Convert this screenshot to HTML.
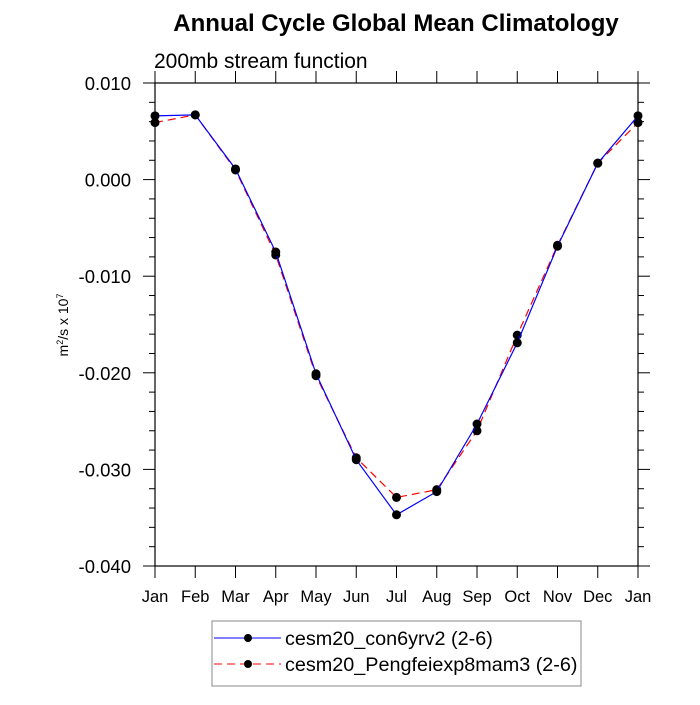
<!DOCTYPE html>
<html><head><meta charset="utf-8"><style>
body{margin:0;background:#fff;}
svg text{font-family:"Liberation Sans",sans-serif;}
</style></head><body>
<svg id="chart" width="700" height="700" xmlns="http://www.w3.org/2000/svg">
<text x="396" y="31" text-anchor="middle" font-size="24" font-weight="bold">Annual Cycle Global Mean Climatology</text>
<text x="154" y="68" font-size="21">200mb stream function</text>
<text transform="translate(68,325) rotate(-90)" text-anchor="middle" font-size="14">m<tspan baseline-shift="super" font-size="9">2</tspan>/s x 10<tspan baseline-shift="super" font-size="9">7</tspan></text>
<g id="axes"></g>
<g id="series"></g>
<g>
<rect x="212" y="621" width="369" height="65" fill="#fff" stroke="#888" stroke-width="1"/>
<line x1="214" y1="638" x2="281" y2="638" stroke="#00f" stroke-width="1"/>
<circle cx="248" cy="638" r="4" fill="#000"/>
<text x="285" y="645" font-size="19.8">cesm20_con6yrv2 (2-6)</text>
<line x1="214" y1="664" x2="281" y2="664" stroke="#f00" stroke-width="1" stroke-dasharray="8,5"/>
<circle cx="248" cy="664" r="4" fill="#000"/>
<text x="285" y="671" font-size="19.8">cesm20_Pengfeiexp8mam3 (2-6)</text>
</g>
</svg>
<script>
const months = ["Jan","Feb","Mar","Apr","May","Jun","Jul","Aug","Sep","Oct","Nov","Dec","Jan"];
const seriesBlue = [0.0066,0.0067,0.0011,-0.0075,-0.0201,-0.0290,-0.0347,-0.0323,-0.0253,-0.0169,-0.0069,0.0017,0.0066];
const seriesRed = [0.0059,0.0067,0.0010,-0.0078,-0.0203,-0.0288,-0.0329,-0.0321,-0.0260,-0.0161,-0.0068,0.0017,0.0059];
const yTicks = [0.010,0.000,-0.010,-0.020,-0.030,-0.040];
const yTickLabels = ["0.010","0.000","-0.010","-0.020","-0.030","-0.040"];
const NS="http://www.w3.org/2000/svg";
const L=155,R=638,T=83,B=566,ymax=0.010,ymin=-0.040;
function xs(i){return L+(R-L)*i/(months.length-1);}
function ys(v){return T+(ymax-v)/(ymax-ymin)*(B-T);}
function mk(tag,attrs,parent){const e=document.createElementNS(NS,tag);for(const k in attrs)e.setAttribute(k,attrs[k]);parent.appendChild(e);return e;}
const ax=document.getElementById('axes');
const frame=mk('rect',{x:L,y:T,width:R-L,height:B-T,fill:'none',stroke:'#000','stroke-width':1.2},ax);


months.forEach((m,i)=>{
  const x=xs(i);
  mk('line',{x1:x,y1:B,x2:x,y2:B+12,stroke:'#000'},ax);
  mk('line',{x1:x,y1:T,x2:x,y2:T-12,stroke:'#000'},ax);
  const t=mk('text',{x:x,y:B+36,'text-anchor':'middle','font-size':16.5},ax);
  t.textContent=m;
  
  
});
for(let v=ymin;v<=ymax+1e-9;v+=0.002){
  const y=ys(v);
  const major=Math.abs(Math.round(v*1000)%10)===0;
  const len=major?12:6;
  mk('line',{x1:L,y1:y,x2:L-len,y2:y,stroke:'#000'},ax);
  mk('line',{x1:R,y1:y,x2:R+len,y2:y,stroke:'#000'},ax);
}
yTicks.forEach((v,i)=>{
  const t=mk('text',{x:L-24,y:ys(v)+7,'text-anchor':'end','font-size':18.5},ax);
  t.textContent=yTickLabels[i];
  
  
});
const sg=document.getElementById('series');
function draw(vals,color,dash,name){
  const pts=vals.map((v,i)=>xs(i)+','+ys(v)).join(' ');
  const pl=mk('polyline',{points:pts,fill:'none',stroke:color,'stroke-width':1.2,'stroke-dasharray':dash},sg);
  
  
  vals.forEach((v,i)=>{
    const c=mk('circle',{cx:xs(i),cy:ys(v),r:4.5,fill:'#000'},sg);
    
    
  });
}
draw(seriesRed,'#f00','8,5','pengfei-series');
draw(seriesBlue,'#00f','none','con6yrv2-series');
</script>
</body></html>
